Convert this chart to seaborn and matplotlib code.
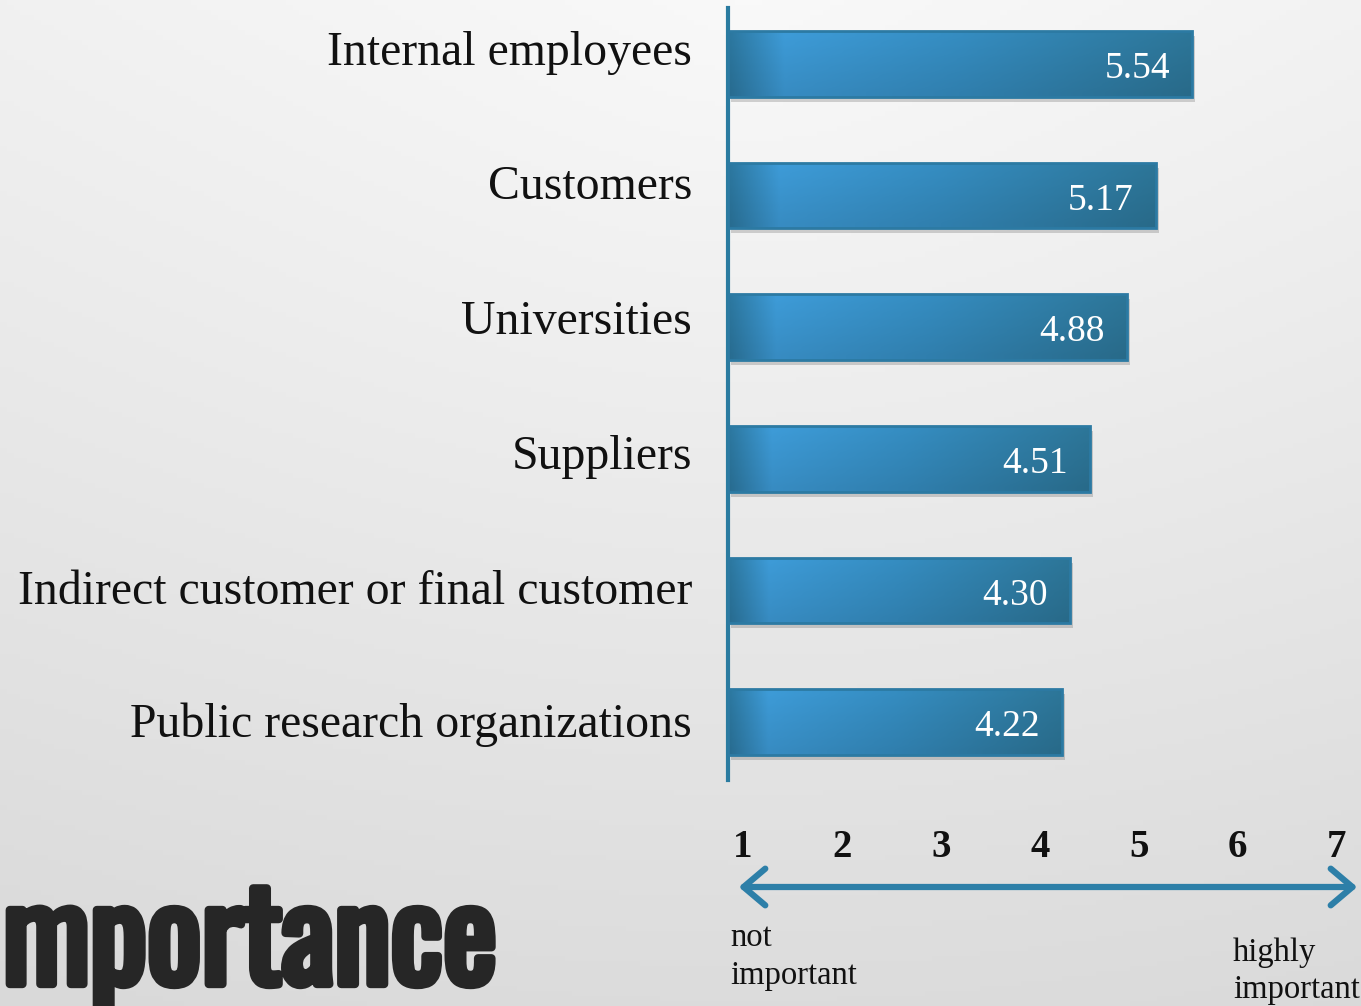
import numpy as np
import pandas as pd
import matplotlib
matplotlib.use('Agg')
import matplotlib.pyplot as plt
import matplotlib.transforms as mtransforms
import matplotlib.patheffects as pe
from matplotlib import font_manager
from matplotlib.colors import LinearSegmentedColormap
import seaborn as sns

# dados
categorias = ['Internal employees', 'Customers', 'Universities', 'Suppliers',
              'Indirect customer or final customer', 'Public research organizations']
valores = [5.54, 5.17, 4.88, 4.51, 4.30, 4.22]
escala = [1, 2, 3, 4, 5, 6, 7]
rotulo_min = 'not\nimportant'
rotulo_max = 'highly\nimportant'
titulo = 'Importance'

df = pd.DataFrame({'categoria': categorias, 'valor': valores})

sns.set_theme(style='white')
plt.rcParams['font.family'] = ['Liberation Serif', 'DejaVu Serif']

W, H = 1361, 1006
fig = plt.figure(figsize=(W / 100, H / 100), dpi=100)

# fundo cinza claro com degradê
fundo = fig.add_axes([0, 0, 1, 1], zorder=-10)
yy, xx = np.mgrid[0:1:200j, 0:1:200j]
grad = 0.35 * yy + 0.25 * np.sqrt((xx - 0.55) ** 2 + (yy * 0.6) ** 2)
cmap_fundo = LinearSegmentedColormap.from_list('fundo', ['#f9f9f9', '#d9d9d9'])
fundo.imshow(grad, cmap=cmap_fundo, aspect='auto', extent=[0, 1, 0, 1], origin='upper', vmin=0, vmax=0.55)
fundo.axis('off')

# eixo principal: posição em pixels convertida
esq, dir_, topo, base = 728, 1361, 8, 780
ax = fig.add_axes([esq / W, 1 - base / H, (dir_ - esq) / W, (base - topo) / H])
ax.patch.set_alpha(0)

sns.barplot(data=df, y='categoria', x='valor', orient='h', color='#3589bd',
            width=0.5, ax=ax, zorder=3)
xmin = 0.85
xlim = (xmin, xmin + (dir_ - esq) / 99)

cmap_barra = LinearSegmentedColormap.from_list(
    'barra', [(0, '#2a7298'), (0.12, '#3b95cf'), (0.5, '#3387b9'), (1, '#2b7192')])
sombra = mtransforms.offset_copy(ax.transData, fig=fig, x=3, y=-5, units='dots')
for p in list(ax.patches):
    # barra começa na linha do eixo
    fim = p.get_x() + p.get_width()
    p.set_x(xmin)
    p.set_width(fim - xmin)
    x0, y0 = p.get_x(), p.get_y()
    w, h = p.get_width(), p.get_height()
    # sombra
    ax.add_patch(plt.Rectangle((x0, y0), w, h, transform=sombra, color='#000000',
                               alpha=0.16, zorder=2, linewidth=0))
    # degradê
    g = np.repeat(np.linspace(0, 1, 256).reshape(1, -1), 8, axis=0)
    vert = np.linspace(1.04, 0.94, 8).reshape(-1, 1)
    rgba = cmap_barra(g)
    rgba[..., :3] = np.clip(rgba[..., :3] * vert[..., None], 0, 1)
    im = ax.imshow(rgba, extent=[x0, x0 + w, y0 + h, y0], aspect='auto', zorder=4)
    im.set_clip_path(p)
    p.set_edgecolor('#2c7aa3')
    p.set_linewidth(2)
    p.set_zorder(5)
    p.set_facecolor('none')

ax.set_ylim(5.44, -0.425)
ax.set_xlim(*xlim)

# valores dentro das barras
for i, v in enumerate(valores):
    ax.text(v, i, f'{v:.2f}', color='white', fontsize=27, ha='right', va='center', zorder=6,
            transform=ax.transData + mtransforms.ScaledTranslation(-22 / 100, -5 / 100, fig.dpi_scale_trans))

# rótulos das categorias
ax.set_ylabel('')
ax.set_xlabel('')
ax.tick_params(axis='y', length=0, pad=26, labelsize=34.4, labelcolor='#111111')
deslocs = [16, 14, 10, 7, 3, 2]
for lab, d in zip(ax.get_yticklabels(), deslocs):
    lab.set_transform(lab.get_transform() + mtransforms.ScaledTranslation(0, d / 100, fig.dpi_scale_trans))

# escala 1-7
ax.set_xticks(escala)
ax.set_xticklabels([str(e) for e in escala], fontsize=28, fontweight='bold', color='#111111')
ax.tick_params(axis='x', length=0, pad=35)

for s in ['top', 'right', 'bottom']:
    ax.spines[s].set_visible(False)
ax.spines['left'].set_color('#2a7ba0')
ax.spines['left'].set_linewidth(3)
ax.grid(False)

# seta dupla
fig.patches.append(matplotlib.patches.FancyArrowPatch(
    (736 / W, 1 - 887 / H), (1360 / W, 1 - 887 / H), transform=fig.transFigure,
    arrowstyle='<->,head_length=1.3,head_width=1.1', color='#2d7fa8', linewidth=4.5,
    mutation_scale=12))

fig.text(730 / W, 1 - 923 / H, rotulo_min, fontsize=23.5, va='top', ha='left',
         color='#111111', linespacing=1.3)
fig.text(1233 / W, 1 - 937 / H, rotulo_max, fontsize=23.5, va='top', ha='left',
         color='#111111', linespacing=1.3)

# fonte estreita e pesada para o título
nomes = {f.name for f in font_manager.fontManager.ttflist}
fonte_titulo = 'DejaVu Sans'
for cand in ['Oswald', 'League Gothic', 'Bebas Neue', 'Roboto Condensed',
             'Open Sans Condensed', 'Liberation Sans Narrow']:
    if cand in nomes:
        fonte_titulo = cand
        break

tam = 104
t = fig.text(497 / W, 1 - 984 / H, titulo, fontsize=tam, fontweight=900,
             family=fonte_titulo, color='#262626', ha='right', va='baseline',
             path_effects=[pe.withStroke(linewidth=6, foreground='#262626')])
# ajusta o tamanho para que "mportance" ocupe ~500 px
r = fig.canvas.get_renderer()
aux = fig.text(0, 0, titulo[1:], fontsize=tam, fontweight=900, family=fonte_titulo)
larg = aux.get_window_extent(r).width
aux.remove()
t.set_fontsize(tam * 494 / larg)

fig.savefig('out.png', dpi=100)
